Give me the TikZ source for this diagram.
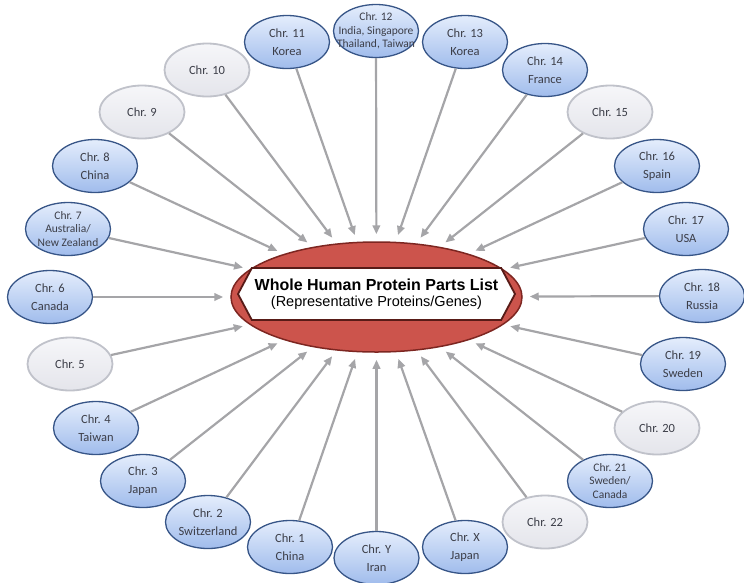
\documentclass[tikz,border=0pt]{standalone}
\usepackage{fontspec}
\setmainfont{Liberation Sans}
\newfontfamily\calib{Carlito}
\usetikzlibrary{shapes.geometric,shapes.symbols,arrows.meta}
\definecolor{bluetop}{RGB}{228,237,252}
\definecolor{bluebot}{RGB}{160,188,236}
\definecolor{blueline}{RGB}{55,85,135}
\definecolor{greyfillA}{RGB}{246,246,249}
\definecolor{greyfillB}{RGB}{228,229,235}
\definecolor{greyline}{RGB}{192,194,202}
\definecolor{arrowgrey}{RGB}{165,165,168}
\definecolor{hubred}{RGB}{204,84,76}
\definecolor{hubline}{RGB}{125,38,33}
\definecolor{txtgrey}{RGB}{60,62,72}
\tikzset{
  bnode/.style={ellipse, draw=blueline, line width=1.3pt, top color=bluetop, bottom color=bluebot,
    minimum width=85pt, minimum height=53pt, inner sep=0pt},
  gnode/.style={ellipse, draw=greyline, line width=1.8pt, top color=greyfillA, bottom color=greyfillB,
    minimum width=85pt, minimum height=53pt, inner sep=0pt},
  ntext/.style={align=center, text=txtgrey, inner sep=0pt, font=\calib\fontsize{12.5}{17.5}\selectfont},
  ntextc/.style={align=center, text=txtgrey, inner sep=0pt, font=\calib\fontsize{11.5}{13.5}\selectfont},
  hubstyle/.style={ellipse, draw=hubline, fill=hubred, line width=1.5pt, minimum width=291pt,
    minimum height=110pt, inner sep=0pt},
  hexbox/.style={signal, signal to=west and east, signal pointer angle=124, draw=hubline!70!black,
    fill=white, line width=1.8pt, minimum width=277pt, minimum height=52pt, inner sep=0pt, align=center,
    font=\fontsize{14.5}{16}\selectfont},
  arr/.style={draw=arrowgrey, line width=2.2pt, -{Triangle[length=9pt,width=7.5pt]}, shorten >=7pt}
}
\begin{document}
\begin{tikzpicture}[x=1pt,y=-1pt]
\useasboundingbox (0,0) rectangle (744,582);
\node[hubstyle] (hub) at (376.5,297) {};
\node[hexbox] (title) at (376.5,294) {{\bfseries\fontsize{16}{16}\selectfont Whole Human Protein Parts List}\\(Representative Proteins/Genes)};

% chromosome nodes
\node[bnode] (c1) at (290,547) {};
\node[bnode] (cY) at (376.5,558) {};
\node[bnode] (cX) at (465,547) {};
\node[gnode] (c22) at (545,522) {};
\node[bnode] (c21) at (610,481) {};
\node[gnode] (c20) at (657,428) {};
\node[bnode] (c19) at (683,364) {};
\node[bnode] (c18) at (702,296) {};
\node[bnode] (c17) at (686,229) {};
\node[bnode] (c16) at (657,166) {};
\node[gnode] (c15) at (610,112) {};
\node[bnode] (c14) at (545,70) {};
\node[bnode] (c13) at (465,42) {};
\node[bnode] (c12) at (376,31) {};
\node[bnode] (c11) at (287,42) {};
\node[gnode] (c10) at (207,70) {};
\node[gnode] (c9) at (142,112) {};
\node[bnode] (c8) at (95,166) {};
\node[bnode] (c7) at (68,229) {};
\node[bnode] (c6) at (50,297) {};
\node[gnode] (c5) at (70,364) {};
\node[bnode] (c4) at (96,428) {};
\node[bnode] (c3) at (143,481) {};
\node[bnode] (c2) at (208,522) {};

% labels
\node[ntext] (t1) at (c1) {Chr. 1\\China};
\node[ntext] (tY) at (cY) {Chr. Y\\Iran};
\node[ntext] (tX) at (cX) {Chr. X\\Japan};
\node[ntext] (t22) at (c22) {Chr. 22};
\node[ntextc] (t21) at (c21) {Chr. 21\\Sweden/\\Canada};
\node[ntext] (t20) at (c20) {Chr. 20};
\node[ntext] (t19) at (c19) {Chr. 19\\Sweden};
\node[ntext] (t18) at (c18) {Chr. 18\\Russia};
\node[ntext] (t17) at (c17) {Chr. 17\\USA};
\node[ntext] (t16) at (c16) {Chr. 16\\Spain};
\node[ntext] (t15) at (c15) {Chr. 15};
\node[ntext] (t14) at (c14) {Chr. 14\\France};
\node[ntext] (t13) at (c13) {Chr. 13\\Korea};
\node[ntextc] (t12) at (c12) {Chr. 12\\India, Singapore\\Thailand, Taiwan};
\node[ntext] (t11) at (c11) {Chr. 11\\Korea};
\node[ntext] (t10) at (c10) {Chr. 10};
\node[ntext] (t9) at (c9) {Chr. 9};
\node[ntext] (t8) at (c8) {Chr. 8\\China};
\node[ntextc] (t7) at (c7) {Chr. 7\\Australia/\\New Zealand};
\node[ntext] (t6) at (c6) {Chr. 6\\Canada};
\node[ntext] (t5) at (c5) {Chr. 5};
\node[ntext] (t4) at (c4) {Chr. 4\\Taiwan};
\node[ntext] (t3) at (c3) {Chr. 3\\Japan};
\node[ntext] (t2) at (c2) {Chr. 2\\Switzerland};

% connectors
\foreach \n in {1,...,22,X,Y} \draw[arr] (c\n) -- (hub);
\end{tikzpicture}
\end{document}
